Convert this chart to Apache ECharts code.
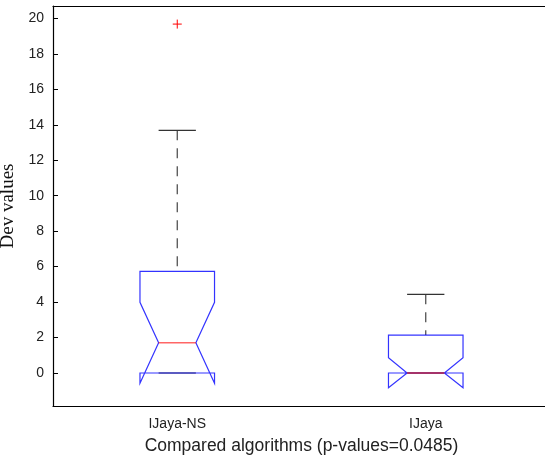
<!DOCTYPE html>
<html>
<head>
<meta charset="utf-8">
<script src="https://cdn.jsdelivr.net/npm/echarts@6/dist/echarts.min.js"></script>
<style>
  html, body { margin: 0; padding: 0; background: #fff; }
  #main { width: 545px; height: 462px; }
</style>
</head>
<body>
<div id="main"></div>
<script>
// boxplot stats
var categories = ['IJaya-NS', 'IJaya'];
var lowerWhisker = [0, 0];
var q1 = [0, 0];
var notchLow = [-0.58, -0.83];
var median = [1.71, 0];
var notchHigh = [3.99, 0.86];
var q3 = [5.73, 2.14];
var upperWhisker = [13.69, 4.44];
var outliers = [[0, 19.68]];
var yTicks = [0, 2, 4, 6, 8, 10, 12, 14, 16, 18, 20];

var myChart = echarts.init(document.getElementById('main'));

var boxData = categories.map(function (c, i) {
  return [i, lowerWhisker[i], q1[i], notchLow[i], median[i], notchHigh[i], q3[i], upperWhisker[i]];
});

var fontSans = "'Liberation Sans', Arial, sans-serif";

function renderBox(params, api) {
  var idx = api.value(0);
  var band = api.size([1, 0])[0];
  var half = band * 0.15;
  var inner = half / 2;
  var cx = api.coord([idx, 0])[0];
  function y(v) { return api.coord([idx, v])[1]; }
  var yLw = y(api.value(1)), yQ1 = y(api.value(2)), yNl = y(api.value(3));
  var yMed = y(api.value(4)), yNh = y(api.value(5)), yQ3 = y(api.value(6)), yUw = y(api.value(7));
  var L = cx - half, R = cx + half, Li = cx - inner, Ri = cx + inner;
  var whisker = { stroke: '#444', lineWidth: 1.2, lineDash: [10, 8] };
  var cap = { stroke: '#333', lineWidth: 1.2 };
  return {
    type: 'group',
    children: [
      { type: 'line', shape: { x1: cx, y1: yUw, x2: cx, y2: yQ3 }, style: whisker },
      { type: 'line', shape: { x1: cx, y1: yLw, x2: cx, y2: yQ1 }, style: whisker },
      { type: 'line', shape: { x1: Li, y1: yUw, x2: Ri, y2: yUw }, style: cap },
      { type: 'line', shape: { x1: Li, y1: yLw, x2: Ri, y2: yLw }, style: cap },
      {
        type: 'polygon',
        shape: {
          points: [[L, yQ3], [R, yQ3], [R, yNh], [Ri, yMed], [R, yNl], [R, yQ1],
                   [L, yQ1], [L, yNl], [Li, yMed], [L, yNh]]
        },
        style: { fill: 'none', stroke: '#0000ff', lineWidth: 1.2, opacity: 0.8 }
      },
      { type: 'line', shape: { x1: Li, y1: yMed, x2: Ri, y2: yMed },
        style: { stroke: '#ff0000', lineWidth: 1.4, opacity: 0.6 } }
    ]
  };
}

function renderOutlier(params, api) {
  var p = api.coord([api.value(0), api.value(1)]);
  var s = 4.5;
  return {
    type: 'group',
    children: [
      { type: 'line', shape: { x1: p[0] - s, y1: p[1], x2: p[0] + s, y2: p[1] }, style: { stroke: '#ff0000', lineWidth: 1 } },
      { type: 'line', shape: { x1: p[0], y1: p[1] - s, x2: p[0], y2: p[1] + s }, style: { stroke: '#ff0000', lineWidth: 1 } }
    ]
  };
}

var option = {
  animation: false,
  grid: { left: 53, top: 6, width: 497, height: 400, outerBoundsMode: 'none', containLabel: false },
  xAxis: [
    {
      type: 'category',
      data: categories,
      position: 'bottom',
      axisLine: { onZero: false, lineStyle: { color: '#000', width: 1.2 } },
      axisTick: { inside: true, length: 5, alignWithLabel: true, lineStyle: { color: '#000' } },
      axisLabel: { color: '#222', fontSize: 14, fontFamily: fontSans, margin: 11 },
      name: 'Compared algorithms (p-values=0.0485)',
      nameLocation: 'middle',
      nameGap: 31,
      nameTextStyle: { color: '#222', fontSize: 17.5, fontFamily: fontSans },
      splitLine: { show: false }
    },
    {
      type: 'category',
      data: categories,
      position: 'top',
      axisLine: { onZero: false, lineStyle: { color: '#000', width: 1.2 } },
      axisTick: { inside: true, length: 5, alignWithLabel: true, lineStyle: { color: '#000' } },
      axisLabel: { show: false },
      splitLine: { show: false }
    }
  ],
  yAxis: [
    {
      type: 'value',
      min: -1.86,
      max: 20.7,
      position: 'left',
      axisLine: { show: true, onZero: false, lineStyle: { color: '#000', width: 1.2 } },
      axisTick: { show: true, inside: true, length: 5, customValues: yTicks, lineStyle: { color: '#000' } },
      axisLabel: { color: '#222', fontSize: 14, fontFamily: fontSans, margin: 9, customValues: yTicks },
      splitLine: { show: false },
      name: 'Dev values',
      nameLocation: 'middle',
      nameGap: 30,
      nameTextStyle: { color: '#111', fontSize: 19, fontFamily: "'Liberation Serif', 'Times New Roman', serif" }
    },
    {
      type: 'value',
      min: -1.86,
      max: 20.7,
      position: 'right',
      axisLine: { show: true, onZero: false, lineStyle: { color: '#000', width: 1.2 } },
      axisTick: { show: true, inside: true, length: 5, customValues: yTicks, lineStyle: { color: '#000' } },
      axisLabel: { show: false },
      splitLine: { show: false }
    }
  ],
  series: [
    {
      type: 'custom',
      renderItem: renderBox,
      data: boxData,
      encode: { x: 0, y: [1, 2, 3, 4, 5, 6, 7] }
    },
    {
      type: 'custom',
      renderItem: renderOutlier,
      data: outliers,
      encode: { x: 0, y: 1 }
    }
  ]
};

myChart.setOption(option);
</script>
</body>
</html>
